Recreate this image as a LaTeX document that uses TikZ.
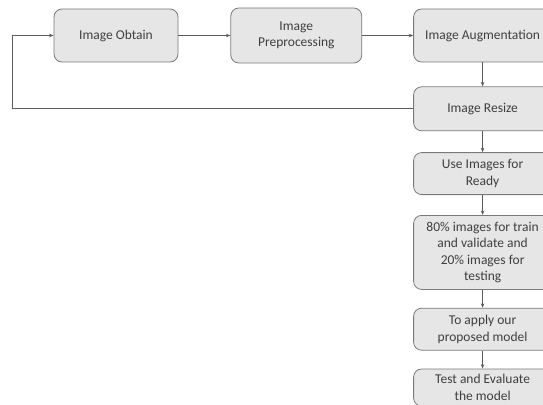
\documentclass[tikz,border=0pt]{standalone}
\usepackage{fontspec}
\setmainfont{Carlito}
\usepackage{tikz}
\usetikzlibrary{arrows.meta,positioning,calc}
\usepackage{xcolor}
\definecolor{boxfill}{HTML}{E6E6E6}
\definecolor{boxline}{HTML}{7A7A7A}
\definecolor{boxtext}{HTML}{3F3F3F}
\definecolor{wire}{HTML}{5A5A5A}

\begin{document}
\begin{tikzpicture}[x=1pt, y=1pt, >={Stealth[length=4.5pt,width=3.5pt]},
  every node/.style={font=\fontsize{13.5}{16.5}\selectfont, text=boxtext},
  stage/.style={draw=boxline, fill=boxfill, rounded corners=8pt, line width=0.8pt, align=center, minimum width=138pt, minimum height=42pt, inner sep=2pt},
  link/.style={->, draw=wire, line width=0.7pt}]
  \clip (0,0) rectangle (543,-404);
  \node (obtain) [stage, minimum width=124pt, minimum height=53pt] at (116,-35.5) {Image Obtain};
  \node (preproc) [stage, right=52pt of obtain, minimum width=131pt, minimum height=55pt] {Image\\Preprocessing};
  \node (augment) [stage, right=51pt of preproc, minimum height=53pt] {Image Augmentation};
  \node (resize) [stage, below=24pt of augment, minimum height=44pt] {Image Resize};
  \node (ready) [stage, below=21pt of resize] {Use Images for\\Ready};
  \node (split) [stage, below=20pt of ready, minimum height=74pt] {80\% images for train\\and validate and\\20\% images for\\testing};
  \node (apply) [stage, below=18pt of split] {To apply our\\proposed model};
  \node (test) [stage, below=18pt of apply, minimum height=37pt, inner sep=1pt] {Test and Evaluate\\the model};
  \draw[link] (obtain) -- (preproc);
  \draw[link] (preproc) -- (augment);
  \draw[link] (augment) -- (resize);
  \draw[link] (resize.west) -| ([xshift=-41pt]obtain.west) -- (obtain.west);
  \draw[link] (resize) -- (ready);
  \draw[link] (ready) -- (split);
  \draw[link] (split) -- (apply);
  \draw[link] (apply) -- (test);
\end{tikzpicture}
\end{document}
